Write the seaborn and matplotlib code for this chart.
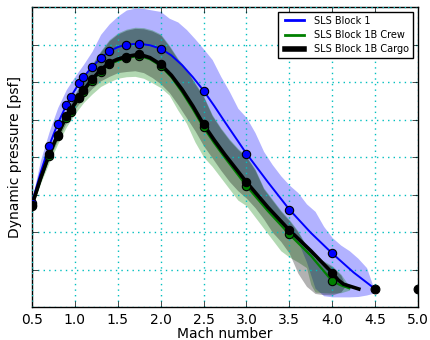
import numpy as np
import pandas as pd
import matplotlib
matplotlib.use("Agg")
import matplotlib.pyplot as plt
import seaborn as sns

plt.style.use("classic")

# ---------------- data ----------------
# marker points
pt_mach = [0.5, 0.7, 0.8, 0.9, 0.95, 1.05, 1.1, 1.2, 1.3, 1.4, 1.6, 1.75, 2.0, 2.5, 3.0, 3.5, 4.0]
blk1_pts = [278, 430, 489, 538, 560, 597, 613, 640, 663, 682, 700, 702, 689, 577, 409, 260, 143]
crew_pts = [269, 403, 456, 505, 521, 557, 574, 603, 628, 647, 664, 670, 643, 479, 323, 194, 69]
cargo_pts = [272, 407, 460, 509, 525, 561, 578, 607, 632, 651, 668, 674, 647, 487, 333, 205, 91]
end_mach = [4.5, 5.0]
end_pts = [48, 48]

# mean curves
blk1_line_mach = [0.5, 0.6, 0.7, 0.8, 0.9, 0.95, 1.05, 1.1, 1.2, 1.3, 1.4, 1.5, 1.6, 1.75, 1.875,
                  2.0, 2.125, 2.25, 2.375, 2.5, 2.625, 2.75, 3.0, 3.25, 3.5, 3.75, 4.0, 4.25, 4.5]
blk1_line = [278, 358, 430, 489, 538, 560, 597, 613, 640, 663, 682, 693, 700, 702, 698,
             689, 671, 645, 613, 577, 536, 493, 409, 333, 260, 198, 143, 92, 48]
cargo_line_mach = [0.5, 0.6, 0.7, 0.8, 0.9, 0.95, 1.05, 1.1, 1.2, 1.3, 1.4, 1.5, 1.6, 1.75, 1.875,
                   2.0, 2.125, 2.25, 2.375, 2.5, 2.625, 2.75, 3.0, 3.25, 3.5, 3.75, 4.0, 4.07,
                   4.13, 4.31]
cargo_line = [272, 343, 407, 460, 509, 525, 561, 578, 607, 632, 651, 661, 668, 674, 665,
              647, 618, 580, 536, 487, 445, 406, 333, 266, 205, 150, 91, 72, 61, 48]
crew_line_mach = [0.5, 0.6, 0.7, 0.8, 0.9, 0.95, 1.05, 1.1, 1.2, 1.3, 1.4, 1.5, 1.6, 1.75, 1.875,
                  2.0, 2.125, 2.25, 2.375, 2.5, 2.625, 2.75, 3.0, 3.25, 3.5, 3.75, 4.0, 4.1, 4.2]
crew_line = [269, 339, 403, 456, 505, 521, 557, 574, 603, 628, 647, 657, 664, 670, 661,
             643, 613, 573, 528, 479, 437, 398, 323, 256, 194, 137, 69, 58, 50]

# dispersion bands
blk1_band_mach = [0.5, 0.6, 0.7, 0.8, 0.9, 1.0, 1.1, 1.2, 1.3, 1.4, 1.5, 1.6, 1.7, 1.8, 1.9, 2.0,
                  2.1, 2.2, 2.3, 2.4, 2.5, 2.6, 2.7, 2.8, 2.9, 3.0, 3.1, 3.2, 3.3, 3.4, 3.5,
                  3.6, 3.7, 3.8, 3.9, 4.0, 4.1, 4.2, 4.3, 4.4, 4.5]
blk1_hi = [288, 392, 468, 532, 580, 615, 647, 682, 727, 755, 776, 792, 797, 796, 792, 788,
           770, 760, 740, 715, 688, 660, 615, 575, 530, 505, 465, 415, 380, 350, 325,
           305, 275, 255, 215, 185, 165, 150, 130, 105, 40]
blk1_lo = [267, 338, 402, 455, 504, 540, 573, 602, 627, 646, 656, 663, 668, 667, 655, 642,
           620, 590, 555, 517, 482, 450, 418, 387, 357, 328, 301, 275, 250, 225, 200,
           175, 120, 50, 30, 27, 27, 27, 28, 32, 38]
cargo_band_mach = [0.5, 0.6, 0.7, 0.8, 0.9, 1.0, 1.1, 1.2, 1.3, 1.4, 1.5, 1.6, 1.7, 1.8, 1.9, 2.0,
                   2.1, 2.2, 2.3, 2.4, 2.5, 2.6, 2.7, 2.8, 2.9, 3.0, 3.1, 3.2, 3.3, 3.4, 3.5,
                   3.6, 3.7, 3.8, 3.9, 4.0, 4.1, 4.15]
cargo_hi = [278, 350, 415, 470, 520, 565, 605, 645, 680, 710, 728, 738, 743, 742, 736, 725,
            695, 660, 632, 595, 560, 510, 475, 445, 420, 400, 365, 315, 285, 255, 230,
            200, 160, 130, 120, 107, 85, 60]
cargo_lo = [265, 335, 395, 445, 492, 528, 558, 583, 603, 615, 625, 628, 630, 625, 612, 595,
            572, 540, 505, 470, 430, 398, 365, 335, 310, 290, 265, 235, 200, 175, 143,
            90, 55, 36, 33, 32, 40, 55]
crew_band_mach = [0.5, 0.6, 0.7, 0.8, 0.9, 1.0, 1.1, 1.2, 1.3, 1.4, 1.5, 1.6, 1.7, 1.8, 1.9, 2.0,
                  2.1, 2.2, 2.3, 2.4, 2.5, 2.6, 2.7, 2.8, 2.9, 3.0, 3.1, 3.2, 3.3, 3.4, 3.5,
                  3.6, 3.7, 3.75, 3.8, 3.9, 4.0, 4.1, 4.2]
crew_hi = [281, 353, 418, 473, 523, 568, 608, 648, 683, 713, 731, 741, 746, 745, 739, 728,
           698, 663, 635, 598, 563, 513, 478, 448, 423, 403, 368, 318, 288, 258, 233,
           203, 163, 150, 133, 123, 110, 88, 55]
crew_lo = [262, 330, 385, 435, 480, 515, 545, 568, 588, 600, 610, 614, 615, 610, 598, 585,
           565, 525, 490, 440, 400, 375, 345, 315, 285, 270, 240, 210, 180, 150, 133,
           120, 105, 60, 40, 38, 37, 38, 45]

labels = ["SLS Block 1", "SLS Block 1B Crew", "SLS Block 1B Cargo"]

# ---------------- figure ----------------
fig = plt.figure(figsize=(4.31, 3.40), dpi=100)
ax = fig.add_axes([32 / 431, 33 / 340, 386 / 431, 300 / 340])

ax.fill_between(blk1_band_mach, blk1_lo, blk1_hi, color="b", alpha=0.3, linewidth=0, zorder=1)
ax.fill_between(crew_band_mach, crew_lo, crew_hi, color="g", alpha=0.3, linewidth=0, zorder=1)
ax.fill_between(cargo_band_mach, cargo_lo, cargo_hi, color="k", alpha=0.3, linewidth=0, zorder=1)

df_b = pd.DataFrame({"mach": blk1_line_mach, "q": blk1_line})
df_g = pd.DataFrame({"mach": crew_line_mach, "q": crew_line})
df_k = pd.DataFrame({"mach": cargo_line_mach, "q": cargo_line})

sns.lineplot(data=df_b, x="mach", y="q", color="b", lw=1.4, estimator=None,
             label=labels[0], ax=ax, zorder=3)
sns.lineplot(data=df_g, x="mach", y="q", color="g", lw=1.6, estimator=None,
             label=labels[1], ax=ax, zorder=3)
sns.lineplot(data=df_k, x="mach", y="q", color="k", lw=2.6, estimator=None,
             label=labels[2], ax=ax, zorder=3)

sns.scatterplot(x=pt_mach, y=blk1_pts, color="b", edgecolor="k", linewidth=0.8, s=36,
                ax=ax, zorder=4, legend=False)
sns.scatterplot(x=pt_mach, y=crew_pts, color="g", edgecolor="k", linewidth=0.8, s=36,
                ax=ax, zorder=4, legend=False)
sns.scatterplot(x=pt_mach, y=cargo_pts, color="k", edgecolor="k", linewidth=0.8, s=36,
                ax=ax, zorder=4, legend=False)
sns.scatterplot(x=end_mach, y=end_pts, color="k", edgecolor="k", linewidth=0.8, s=40,
                ax=ax, zorder=5, legend=False)

ax.set_xlim(0.5, 5.0)
ax.set_ylim(0, 800)
ax.set_xticks(np.arange(0.5, 5.01, 0.5))
ax.set_xticklabels([f"{v:.1f}" for v in np.arange(0.5, 5.01, 0.5)], fontsize=10)
ax.set_yticks(np.arange(0, 801, 100))
ax.set_yticklabels([])
ax.tick_params(direction="in", length=4, top=True, right=True)
ax.grid(True, color="c", linestyle=":", linewidth=1)
ax.set_axisbelow(False)
for gl in ax.get_xgridlines() + ax.get_ygridlines():
    gl.set_zorder(2)

ax.set_xlabel("Mach number", fontsize=10, labelpad=0)
ax.set_ylabel("Dynamic pressure [psf]", fontsize=10, labelpad=3)

leg = ax.legend(loc="upper right", fontsize=7, frameon=True, fancybox=False,
                borderaxespad=0.5, handlelength=2.5, labelspacing=0.45)
leg.get_frame().set_edgecolor("k")
leg.get_frame().set_linewidth(1.0)
leg.legend_handles[0].set_linewidth(2)
leg.legend_handles[1].set_linewidth(2)
leg.legend_handles[2].set_linewidth(4)

fig.savefig("out.png", dpi=100)
